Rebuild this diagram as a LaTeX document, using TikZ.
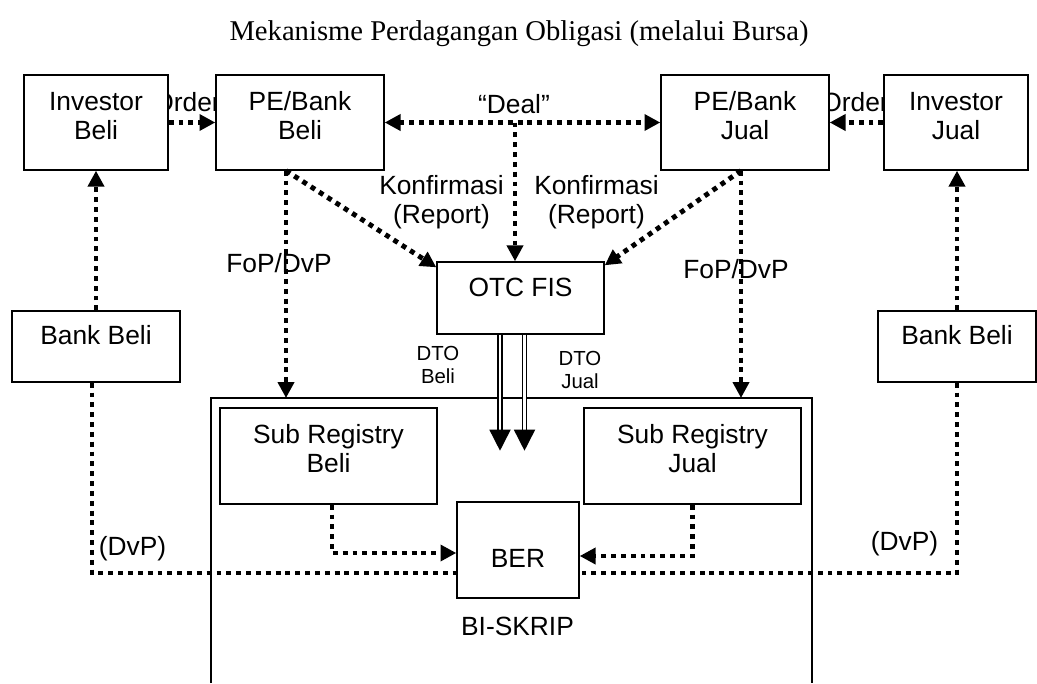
\documentclass[tikz,border=0pt]{standalone}
\usepackage{fontspec}
\setmainfont{Liberation Serif}
\setsansfont{Liberation Sans}
\usetikzlibrary{calc,arrows.meta}

\tikzset{
  lbl/.style={font=\sffamily\fontsize{15}{16.5}\selectfont, anchor=base, inner sep=0pt, align=center},
  small/.style={font=\sffamily\fontsize{11.6}{13}\selectfont, anchor=base, inner sep=0pt, align=center},
  box/.style={draw, line width=0.8pt, fill=white},
  boxtxt/.style 2 args={label={[lbl, yshift=-#1]north:#2}},
  flowline/.style={line width=2.8pt, dash pattern=on 2.8pt off 2.8pt},
  flow/.style={flowline, -{Triangle[length=9pt,width=9pt]}},
  flowboth/.style={flowline, {Triangle[length=9pt,width=9pt]}-{Triangle[length=9pt,width=9pt]}},
  dto/.style={double, double distance=1.6pt, line width=0.9pt, -{Triangle[length=12pt,width=12pt]}}
}

\begin{document}
\begin{tikzpicture}[x=0.02cm, y=-0.02cm]
\useasboundingbox (0,0) rectangle (1037,683);
\node[font=\rmfamily\fontsize{16.3}{18}\selectfont, anchor=base, inner sep=0pt] (title) at (519,40) {Mekanisme Perdagangan Obligasi (melalui Bursa)};

% labels (boxes are drawn over them)
\node[lbl] (orderL) at (187,111) {Order};
\node[lbl] (orderR) at (855,111) {Order};
\node[lbl] (deal) at (514,113) {“Deal”};
\node[lbl] (konfL) at (441.5,223) {Konfirmasi\\(Report)};
\node[lbl] (konfR) at (596.5,223) {Konfirmasi\\(Report)};
\node[lbl] (fopL) at (279,272) {FoP/DvP};
\node[lbl] (fopR) at (736,278) {FoP/DvP};
\node[small] (dtoB) at (438,383) {DTO\\Beli};
\node[small] (dtoJ) at (580,388) {DTO\\Jual};
\node[lbl] (dvpL) at (132.5,555) {(DvP)};
\node[lbl] (dvpR) at (904.5,550) {(DvP)};
\node[lbl] (skrip) at (517.5,635) {BI-SKRIP};

% BI-SKRIP frame
\coordinate (skripNW) at (211,398);
\coordinate (skripNE) at (812,398);
\draw[line width=1.5pt] (211,683) -- (skripNW) -- (skripNE) -- (812,683);

% boxes
\node[box, minimum width=2.88cm, minimum height=1.9cm, boxtxt={1.31cm}{Investor\\Beli}] (invbeli) at (96,122.5) {};
\node[box, minimum width=3.36cm, minimum height=1.9cm, boxtxt={1.31cm}{PE/Bank\\Beli}] (pebeli) at (300,122.5) {};
\node[box, minimum width=3.36cm, minimum height=1.9cm, boxtxt={1.31cm}{PE/Bank\\Jual}] (pejual) at (745,122.5) {};
\node[box, minimum width=2.88cm, minimum height=1.9cm, boxtxt={1.31cm}{Investor\\Jual}] (invjual) at (956,122.5) {};
\node[box, minimum width=3.34cm, minimum height=1.44cm, boxtxt={0.7cm}{OTC FIS}] (otc) at (520.5,298) {};
\node[box, minimum width=3.36cm, minimum height=1.42cm, boxtxt={0.68cm}{Bank Beli}] (bankL) at (96,346.5) {};
\node[box, minimum width=3.16cm, minimum height=1.42cm, boxtxt={0.68cm}{Bank Beli}] (bankR) at (957,346.5) {};
\node[box, minimum width=4.34cm, minimum height=1.92cm, boxtxt={1.3cm}{Sub Registry\\Beli}] (subbeli) at (328.5,456) {};
\node[box, minimum width=4.34cm, minimum height=1.92cm, boxtxt={1.3cm}{Sub Registry\\Jual}] (subjual) at (692.5,456) {};
\node[box, minimum width=2.44cm, minimum height=1.92cm, boxtxt={1.32cm}{BER}] (ber) at (518,550) {};

% connectors
\draw[flow] (invbeli) -- (pebeli);
\draw[flow] (invjual) -- (pejual);
\draw[flowboth] (pebeli) -- (pejual);
\coordinate (dealmid) at (515,122.5);
\draw[flow] (dealmid) -- (dealmid |- otc.north);
\coordinate (pbout) at ([xshift=-0.28cm]pebeli.south);
\draw[flow] (pbout) -- ([yshift=-0.12cm]otc.north west);
\draw[flow] (pbout) -- (pbout |- skripNW);
\coordinate (pjout) at ([xshift=-0.08cm]pejual.south);
\draw[flow] (pjout) -- ([yshift=-0.08cm]otc.north east);
\draw[flow] (pjout) -- (pjout |- skripNE);
\draw[flow] (bankL) -- (invbeli);
\draw[flow] (bankR.north) -- (bankR.north |- invjual.south);
\draw[flowline] ([xshift=-0.08cm]bankL.south) |- ([yshift=-0.46cm]ber.west);
\draw[flowline] (bankR.south) |- ([yshift=-0.46cm]ber.east);
\draw[flow] ([xshift=0.07cm]subbeli.south) |- ([yshift=-0.06cm]ber.west);
\draw[flow] (subjual.south) |- ([yshift=-0.12cm]ber.east);
\draw[dto] ([xshift=-0.41cm]otc.south) -- ++(0,116);
\draw[dto] ([xshift=0.08cm]otc.south) -- ++(0,116);
\end{tikzpicture}
\end{document}
